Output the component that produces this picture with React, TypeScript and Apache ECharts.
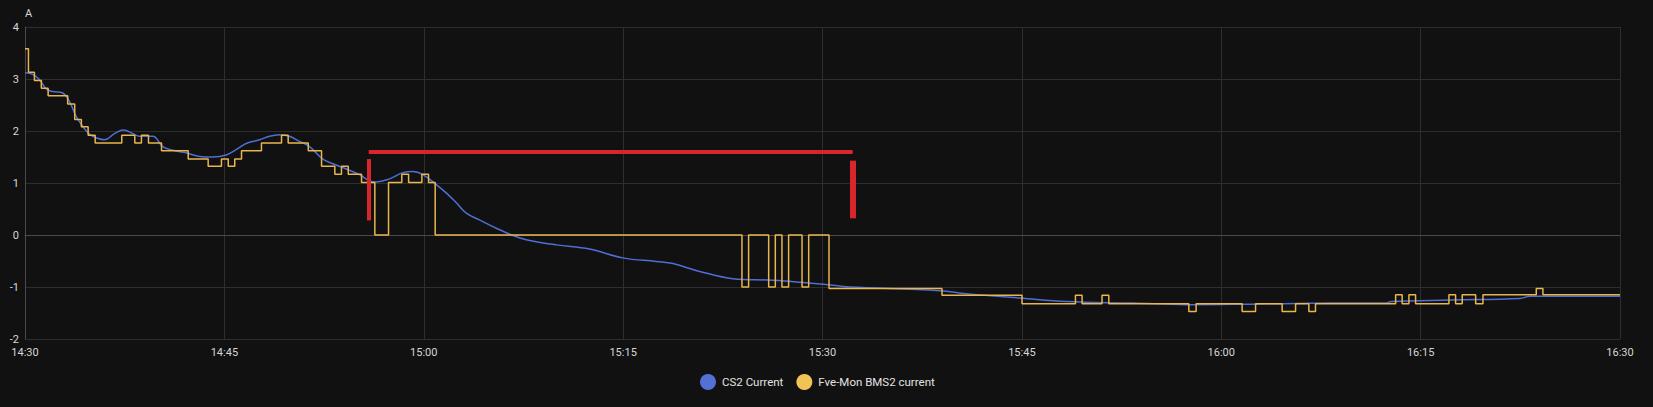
import React, { useEffect, useRef } from "react";
import * as echarts from "echarts";

// minutes after 14:30
const startHour = 14;
const startMinute = 30;
const xTickLabels = ["14:30", "14:45", "15:00", "15:15", "15:30", "15:45", "16:00", "16:15", "16:30"];
const yTickLabels = ["-2", "-1", "0", "1", "2", "3", "4"];

const cs2Minutes = [0, 0.58, 1.08, 1.59, 2.08, 2.84, 3.34, 3.85, 4.34, 4.85, 5.35, 5.98, 6.73, 7.41, 8.11, 8.61, 9.61, 10.36, 11.12, 12.12, 13.13, 14.13, 15.14, 15.89, 16.64, 17.64, 18.39, 19.15, 19.9, 20.65, 21.4, 22.41, 23.16, 24.17, 25.17, 25.92, 26.42, 27.43, 28.43, 29.18, 29.93, 30.94, 31.69, 32.45, 33.2, 34.2, 35.46, 36.71, 37.71, 39.97, 42.48, 44.98, 47.5, 48.75, 50.76, 53.26, 56.27, 58.79, 61.29, 62.05, 68.82, 70.83, 74.84, 78.36, 83.37, 87.39, 92.15, 98.4, 102.3, 102.8, 107.2, 112.47, 113.23, 120];
const cs2Values = [3.12, 3.09, 2.99, 2.81, 2.76, 2.73, 2.57, 2.28, 2.09, 1.94, 1.87, 1.83, 1.95, 2.02, 1.95, 1.9, 1.9, 1.7, 1.63, 1.58, 1.51, 1.5, 1.54, 1.64, 1.76, 1.83, 1.9, 1.93, 1.9, 1.8, 1.7, 1.46, 1.37, 1.27, 1.16, 1.04, 1.02, 1.08, 1.2, 1.22, 1.16, 0.97, 0.81, 0.62, 0.42, 0.29, 0.13, -0.01, -0.09, -0.19, -0.27, -0.44, -0.51, -0.55, -0.7, -0.84, -0.87, -0.92, -0.98, -1.0, -1.07, -1.13, -1.21, -1.28, -1.31, -1.34, -1.33, -1.31, -1.31, -1.28, -1.25, -1.22, -1.18, -1.18];

const bmsMinutes = [0, 0.26, 0.71, 1.23, 1.74, 3.21, 3.74, 4.24, 4.75, 5.28, 7.28, 8.26, 8.76, 9.29, 10.27, 12.28, 13.78, 14.78, 15.29, 15.78, 16.29, 17.79, 19.3, 19.8, 21.31, 22.31, 23.31, 23.81, 24.32, 25.32, 26.32, 27.35, 28.35, 28.86, 29.86, 30.36, 30.86, 53.94, 54.44, 55.95, 56.45, 56.95, 57.45, 58.46, 58.96, 60.49, 68.99, 75.01, 79.03, 79.53, 81.03, 81.54, 87.56, 88.11, 91.57, 92.58, 94.58, 95.59, 96.59, 97.09, 103.12, 103.61, 104.12, 104.62, 107.13, 107.63, 108.13, 109.14, 109.69, 113.7, 114.2, 120];
const bmsValues = [3.58, 3.13, 2.97, 2.82, 2.68, 2.52, 2.22, 2.08, 1.92, 1.77, 1.92, 1.77, 1.92, 1.77, 1.62, 1.46, 1.32, 1.46, 1.32, 1.46, 1.62, 1.77, 1.92, 1.77, 1.62, 1.32, 1.17, 1.32, 1.17, 1.01, 0, 1.01, 1.17, 1.01, 1.17, 1.01, 0, -1.0, 0, -1.0, 0, -1.0, 0, -1.0, 0, -1.03, -1.16, -1.32, -1.16, -1.32, -1.16, -1.32, -1.47, -1.32, -1.47, -1.32, -1.47, -1.32, -1.47, -1.32, -1.15, -1.32, -1.15, -1.32, -1.15, -1.32, -1.15, -1.32, -1.15, -1.03, -1.15, -1.15];

// red annotation bracket (minutes, amps)
const bracketLeftMinute = 25.86;
const bracketRightMinute = 62.27;
const bracketTopValue = 1.6;
const bracketLeftRange = [1.46, 0.28];
const bracketRightRange = [1.43, 0.32];

const seriesNames = ["CS2 Current", "Fve-Mon BMS2 current"];

function minuteLabel(m: number): string {
  const total = startHour * 60 + startMinute + Math.round(m);
  const h = Math.floor(total / 60);
  const mm = total % 60;
  return `${h}:${mm < 10 ? "0" + mm : mm}`;
}

export default function App() {
  const ref = useRef<HTMLDivElement>(null);
  useEffect(() => {
    if (!ref.current) return;
    const chart = echarts.init(ref.current, null, { renderer: "svg" });
    const cs2Data = cs2Minutes.map((m, i) => [m, cs2Values[i]]);
    const bmsData = bmsMinutes.map((m, i) => [m, bmsValues[i]]);
    const red = "#d9262c";
    chart.setOption({
      animation: false,
      backgroundColor: "#111111",
      textStyle: { fontFamily: "Roboto" },
      grid: { left: 25, right: 33, top: 27, bottom: 68 },
      legend: {
        data: seriesNames,
        left: 700,
        top: 374,
        padding: 0,
        icon: "circle",
        itemWidth: 16,
        itemHeight: 16,
        itemGap: 13,
        textStyle: { color: "#e3e3e3", fontSize: 11.5, fontFamily: "Roboto", padding: [0, 0, 0, 1] },
      },
      xAxis: {
        type: "value",
        min: 0,
        max: 120,
        interval: 15,
        axisLine: { show: true, lineStyle: { color: "#4a4a4a" } },
        axisTick: { show: false },
        axisLabel: {
          color: "#d6d6d6",
          fontSize: 11,
          margin: 8,
          formatter: (v: number) => {
            const idx = Math.round(v / 15);
            return xTickLabels[idx] ?? minuteLabel(v);
          },
        },
        splitLine: { show: true, lineStyle: { color: "#2e2e2e" } },
      },
      yAxis: {
        type: "value",
        min: -2,
        max: 4,
        interval: 1,
        name: "A",
        nameGap: 8,
        nameTextStyle: { color: "#d6d6d6", fontSize: 11, align: "left", padding: [0, 0, 0, 0] },
        axisLine: { show: true, lineStyle: { color: "#4a4a4a" } },
        axisTick: { show: false },
        axisLabel: {
          color: "#d6d6d6",
          fontSize: 11,
          margin: 6,
          formatter: (v: number) => yTickLabels[Math.round(v + 2)] ?? String(v),
        },
        splitLine: { show: true, lineStyle: { color: "#2e2e2e" } },
      },
      series: [
        {
          name: seriesNames[0],
          type: "line",
          data: cs2Data,
          smooth: 0.4,
          showSymbol: false,
          color: "#5370d5",
          lineStyle: { width: 1.5, color: "#4f6ed6" },
          z: 2,
        },
        {
          name: seriesNames[1],
          type: "line",
          data: bmsData,
          step: "end",
          showSymbol: false,
          color: "#f1c255",
          lineStyle: { width: 1.5, color: "#e8b64c" },
          z: 3,
          markLine: {
            silent: true,
            symbol: ["none", "none"],
            label: { show: false },
            animation: false,
            data: [
              [
                { coord: [bracketLeftMinute, bracketTopValue], lineStyle: { color: red, width: 4, type: "solid" } },
                { coord: [bracketRightMinute, bracketTopValue] },
              ],
              [
                { coord: [bracketLeftMinute, bracketLeftRange[0]], lineStyle: { color: red, width: 4, type: "solid" } },
                { coord: [bracketLeftMinute, bracketLeftRange[1]] },
              ],
              [
                { coord: [bracketRightMinute, bracketRightRange[0]], lineStyle: { color: red, width: 6, type: "solid" } },
                { coord: [bracketRightMinute, bracketRightRange[1]] },
              ],
            ],
          },
        },
      ],
    });
    return () => chart.dispose();
  }, []);
  return <div ref={ref} style={{ width: 1653, height: 407, position: "absolute", left: 0, top: 0 }} />;
}
